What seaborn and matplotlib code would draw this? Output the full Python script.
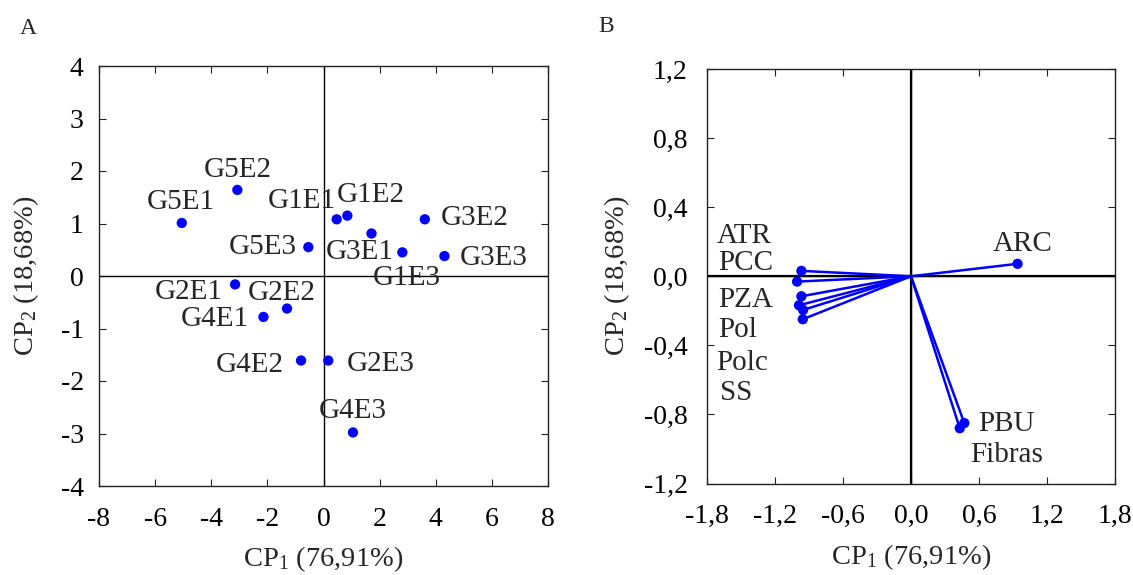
import matplotlib
matplotlib.use("Agg")
import matplotlib.pyplot as plt
import seaborn as sns
import pandas as pd

# ---------------- data ----------------
# Panel A: scores
obs_names = ["G5E1", "G5E2", "G1E1", "G1E2", "G3E2", "G5E3", "G3E1", "G1E3",
             "G3E3", "G2E1", "G2E2", "G4E1", "G4E2", "G2E3", "G4E3"]
obs_cp1 = [-5.05, -3.07, 0.47, 0.85, 3.61, -0.54, 2.81, 1.71,
           4.31, -3.15, -1.30, -2.14, -0.80, 0.17, 1.05]
obs_cp2 = [1.01, 1.64, 1.08, 1.15, 1.08, 0.55, 0.45, 0.81,
           0.38, -0.16, -0.62, -0.78, -1.61, -1.61, -2.98]

# Panel B: loadings
var_names = ["ATR", "PCC", "PZA", "Pol", "Polc", "SS", "ARC", "PBU", "Fibras"]
var_cp1 = [-0.967, -1.005, -0.967, -0.988, -0.952, -0.955, 0.94, 0.47, 0.43]
var_cp2 = [0.031, -0.031, -0.116, -0.168, -0.195, -0.249, 0.072, -0.85, -0.88]

xticks_a = [-8, -6, -4, -2, 0, 2, 4, 6, 8]
yticks_a = [-4, -3, -2, -1, 0, 1, 2, 3, 4]
xticks_b = [-1.8, -1.2, -0.6, 0.0, 0.6, 1.2, 1.8]
yticks_b = [-1.2, -0.8, -0.4, 0.0, 0.4, 0.8, 1.2]

xlabel = "CP$_1$ (76,91%)"
ylabel = "CP$_2$ (18,68%)"

# label offsets in pixels (dx, dy) – layout only
obs_off = [(-1, 21), (0, 20), (-35, 18), (23, 21), (50, 1), (-46, 0), (-43, 0),
           (35, -45), (49, -2), (-46, -8), (-5, 16), (-49, -2), (-51, -4),
           (52, -3), (0, 21)]
var_off = [(-57, 35), (-51, 19), (-56, -4), (-61, -25), (-61, -53),
           (-67, -74), (5, 20), (42, -1), (47, -27)]

# ---------------- style ----------------
sns.set_style("ticks")
plt.rcParams["font.family"] = ["Liberation Serif", "DejaVu Serif"]
plt.rcParams["mathtext.fontset"] = "custom"
plt.rcParams["mathtext.rm"] = "Liberation Serif"
plt.rcParams["mathtext.it"] = "Liberation Serif:italic"
plt.rcParams["axes.unicode_minus"] = False

BLUE = "#0000FF"
W, H = 1133, 575
fig = plt.figure(figsize=(W / 100, H / 100), dpi=100)
axA = fig.add_axes([99 / W, (H - 486) / H, 449 / W, 420 / H])
axB = fig.add_axes([707 / W, (H - 483.5) / H, 408 / W, 414.5 / H])

def fmt_comma(vals, nd):
    return [f"{v:.{nd}f}".replace(".", ",") for v in vals]

def style_axes(ax, ypad, ylpad):
    for s in ax.spines.values():
        s.set_linewidth(1.0)
        s.set_color("#222222")
        s.set_visible(True)
    ax.tick_params(direction="in", length=5, width=0.8, top=True, right=True,
                   labelsize=20, colors="#222222", labelcolor="black")
    ax.tick_params(axis="x", pad=15)
    ax.tick_params(axis="y", pad=ypad)
    ax.axhline(0, color="black", lw=1.0, zorder=1)
    ax.axvline(0, color="black", lw=1.0, zorder=1)
    ax.set_xlabel(xlabel, fontsize=20.5, labelpad=9)
    ax.set_ylabel(ylabel, fontsize=20.5, labelpad=ylpad)

# ---------------- Panel A ----------------
dfA = pd.DataFrame({"cp1": obs_cp1, "cp2": obs_cp2, "name": obs_names})
sns.scatterplot(data=dfA, x="cp1", y="cp2", ax=axA, color=BLUE, s=55,
                edgecolor="none", zorder=3, legend=False)
for (n, x, y), (dx, dy) in zip(zip(obs_names, obs_cp1, obs_cp2), obs_off):
    axA.annotate(n, (x, y), xytext=(dx, dy), textcoords="offset pixels",
                 ha="center", va="center", fontsize=21, zorder=4)
axA.set_xlim(-8, 8)
axA.set_ylim(-4, 4)
axA.set_xticks(xticks_a)
axA.set_yticks(yticks_a)
axA.set_xticklabels([str(v) for v in xticks_a])
axA.set_yticklabels([str(v) for v in yticks_a])
style_axes(axA, 11, 14)

# ---------------- Panel B ----------------
rows = []
for n, x, y in zip(var_names, var_cp1, var_cp2):
    rows.append({"var": n, "cp1": 0.0, "cp2": 0.0, "ord": 0})
    rows.append({"var": n, "cp1": x, "cp2": y, "ord": 1})
dfB = pd.DataFrame(rows)
sns.lineplot(data=dfB, x="cp1", y="cp2", units="var", estimator=None,
             sort=False, ax=axB, color=BLUE, lw=1.8, zorder=2)
dfBp = pd.DataFrame({"cp1": var_cp1, "cp2": var_cp2, "var": var_names})
sns.scatterplot(data=dfBp, x="cp1", y="cp2", ax=axB, color=BLUE, s=55,
                edgecolor="none", zorder=3, legend=False)
for (n, x, y), (dx, dy) in zip(zip(var_names, var_cp1, var_cp2), var_off):
    axB.annotate(n, (x, y), xytext=(dx, dy), textcoords="offset pixels",
                 ha="center", va="center", fontsize=21, zorder=4)
axB.set_xlim(-1.8, 1.8)
axB.set_ylim(-1.2, 1.2)
axB.set_xticks(xticks_b)
axB.set_yticks(yticks_b)
axB.set_xticklabels(fmt_comma(xticks_b, 1))
axB.set_yticklabels(fmt_comma(yticks_b, 1))
style_axes(axB, 14, 8)
axB.axhline(0, color="black", lw=1.6, zorder=1)
axB.axvline(0, color="black", lw=1.6, zorder=1)

# panel letters
fig.text(28 / W, 1 - 28 / H, "A", fontsize=17, ha="center", va="center")
fig.text(606 / W, 1 - 27 / H, "B", fontsize=17, ha="center", va="center")

fig.savefig("out.png", dpi=100)
